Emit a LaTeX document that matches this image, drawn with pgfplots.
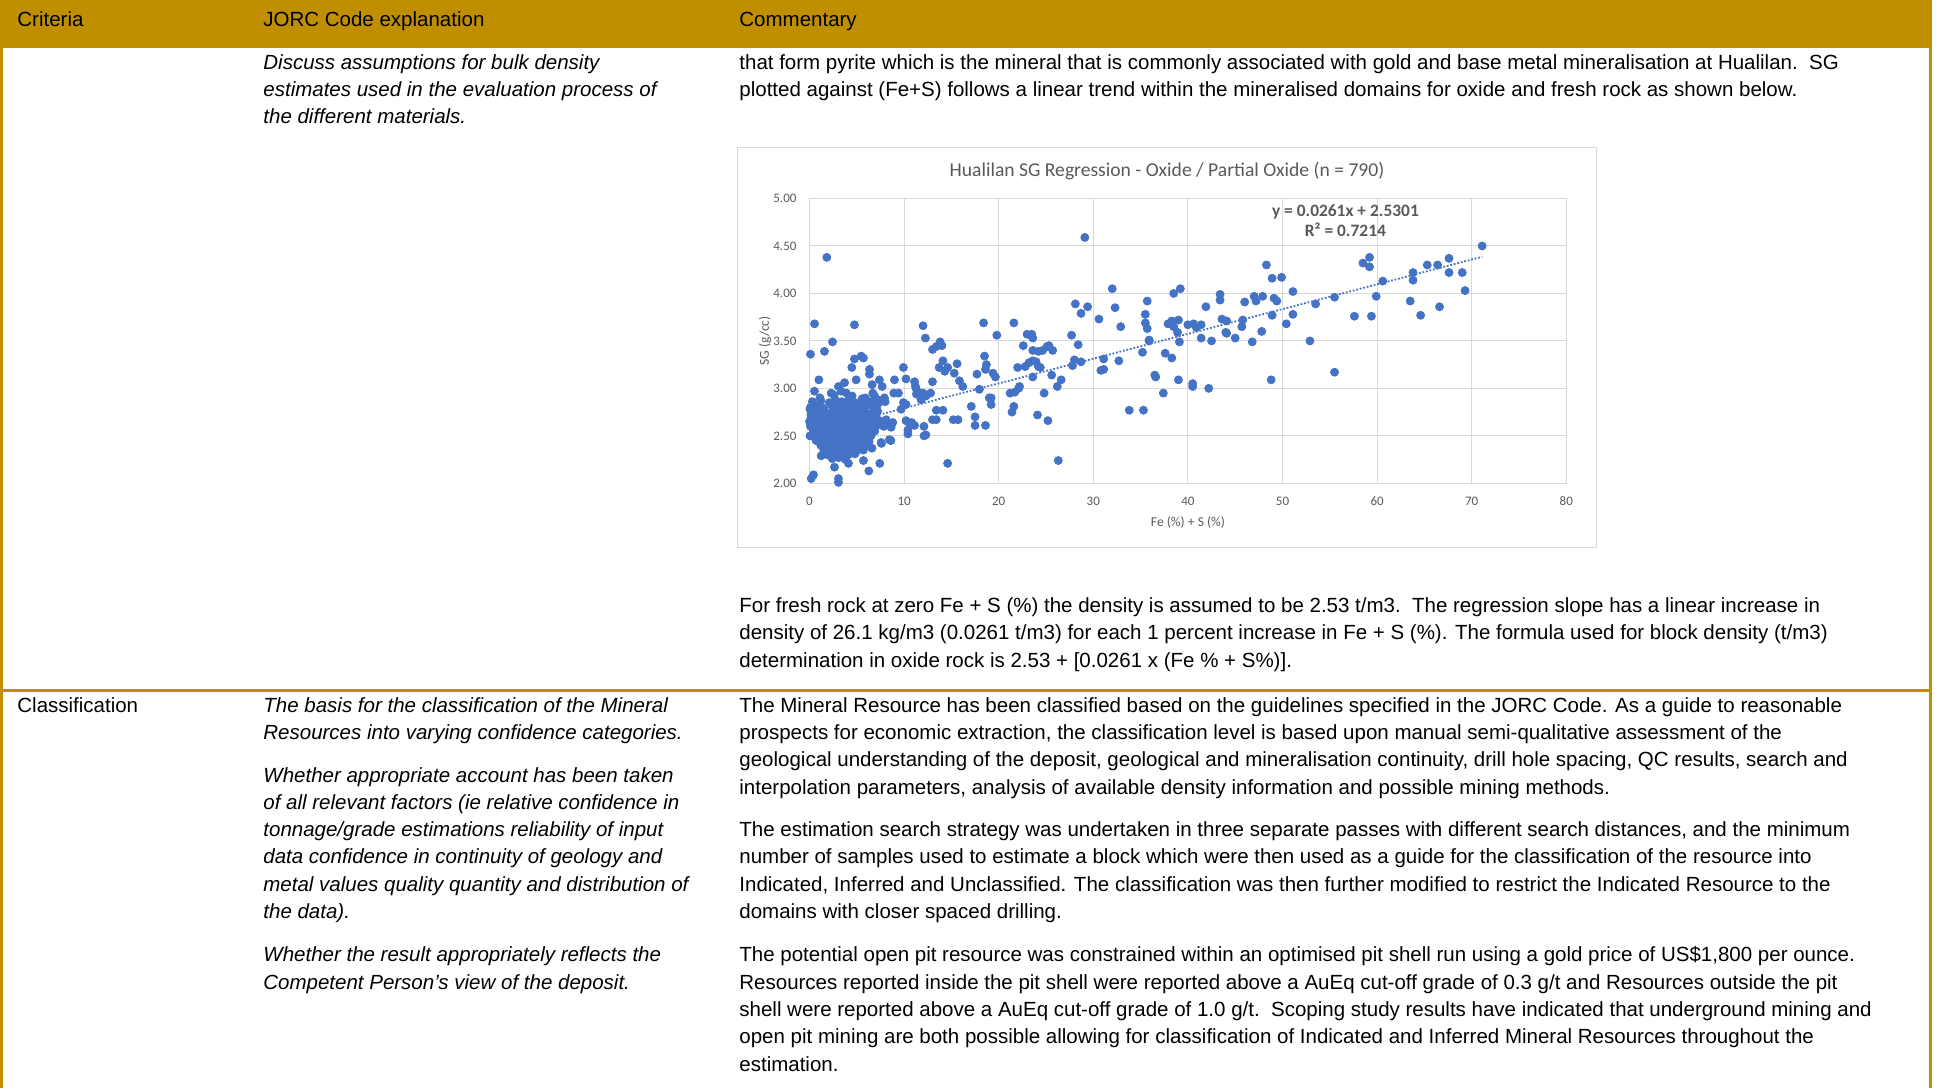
\documentclass[border=0pt]{standalone}
\usepackage{fontspec}
\setmainfont{Liberation Sans}
\newfontfamily\calibri{Carlito}
\usepackage{pgfplots}
\pgfplotsset{compat=1.18}

\definecolor{gold}{HTML}{BF8F00}
\definecolor{xlblue}{HTML}{4472C4}
\definecolor{xlgrid}{HTML}{D9D9D9}
\definecolor{xltext}{HTML}{595959}

\newcommand\body{\fontsize{10.25}{13.6}\selectfont}

\begin{document}
\begin{tikzpicture}[x=0.5pt, y=-0.5pt,
  t/.style={anchor=base west, inner sep=0pt, font=\body},
  ti/.style={anchor=base west, inner sep=0pt, font=\body\itshape}]
\useasboundingbox (0,0) rectangle (1941,1088);

% table frame
\fill[gold] (0,0) rectangle (1932,48);
\fill[gold] (0,0) rectangle (3,1088);
\fill[gold] (1929,0) rectangle (1932,1088);
\fill[gold] (0,689.3) rectangle (1932,692.3);

% header
\node[t] at (17,26) {Criteria};
\node[t] at (263,26) {JORC Code explanation};
\node[t] at (739,26) {Commentary};

% row 1
\node[ti] at (263,69) {Discuss assumptions for bulk density};
\node[ti] at (263,96) {estimates used in the evaluation process of};
\node[ti] at (263,123) {the different materials.};
\node[t] at (739,69) {that form pyrite which is the mineral that is commonly associated with gold and base metal mineralisation at Hualilan.\ \ SG};
\node[t] at (739,96) {plotted against (Fe+S) follows a linear trend within the mineralised domains for oxide and fresh rock as shown below.};
\node[t] at (739,612) {For fresh rock at zero Fe + S (\%) the density is assumed to be 2.53 t/m3.\ \ The regression slope has a linear increase in};
\node[t] at (739,639.5) {density of 26.1 kg/m3 (0.0261 t/m3) for each 1 percent increase in Fe + S (\%). The formula used for block density (t/m3)};
\node[t] at (739,667) {determination in oxide rock is 2.53 + [0.0261 x (Fe \% + S\%)].};

% row 2
\node[t] at (17,712) {Classification};
\node[ti] at (263,712) {The basis for the classification of the Mineral};
\node[ti] at (263,739) {Resources into varying confidence categories.};
\node[ti] at (263,782.5) {Whether appropriate account has been taken};
\node[ti] at (263,809.5) {of all relevant factors (ie relative confidence in};
\node[ti] at (263,836.5) {tonnage/grade estimations reliability of input};
\node[ti] at (263,863.5) {data confidence in continuity of geology and};
\node[ti] at (263,891) {metal values quality quantity and distribution of};
\node[ti] at (263,918) {the data).};
\node[ti] at (263,961.5) {Whether the result appropriately reflects the};
\node[ti] at (263,989) {Competent Person’s view of the deposit.};

\node[t] at (739,712) {The Mineral Resource has been classified based on the guidelines specified in the JORC Code. As a guide to reasonable};
\node[t] at (739,739) {prospects for economic extraction, the classification level is based upon manual semi-qualitative assessment of the};
\node[t] at (739,766.5) {geological understanding of the deposit, geological and mineralisation continuity, drill hole spacing, QC results, search and};
\node[t] at (739,794) {interpolation parameters, analysis of available density information and possible mining methods.};
\node[t] at (739,836) {The estimation search strategy was undertaken in three separate passes with different search distances, and the minimum};
\node[t] at (739,863.5) {number of samples used to estimate a block which were then used as a guide for the classification of the resource into};
\node[t] at (739,891) {Indicated, Inferred and Unclassified. The classification was then further modified to restrict the Indicated Resource to the};
\node[t] at (739,918) {domains with closer spaced drilling.};
\node[t] at (739,961.5) {The potential open pit resource was constrained within an optimised pit shell run using a gold price of US\$1,800 per ounce.};
\node[t] at (739,989) {Resources reported inside the pit shell were reported above a AuEq cut-off grade of 0.3 g/t and Resources outside the pit};
\node[t] at (739,1016.3) {shell were reported above a AuEq cut-off grade of 1.0 g/t.\ \ Scoping study results have indicated that underground mining and};
\node[t] at (739,1043.6) {open pit mining are both possible allowing for classification of Indicated and Inferred Mineral Resources throughout the};
\node[t] at (739,1071) {estimation.};

% chart frame and texts
\draw[xlgrid, line width=0.5pt] (737.5,147.5) rectangle (1596.5,547.5);
\node[anchor=base, inner sep=0pt, font=\calibri\fontsize{9.8}{11}\selectfont, text=xltext] at (1167,176) {Hualilan SG Regression - Oxide / Partial Oxide (n = 790)};
\node[anchor=base, inner sep=0pt, font=\calibri\fontsize{6.8}{8}\selectfont, text=xltext] at (1188,526) {Fe (\%) + S (\%)};
\node[rotate=90, inner sep=0pt, font=\calibri\fontsize{6.8}{8}\selectfont, text=xltext] at (765,341) {SG (g/cc)};

\begin{axis}[
  at={(404.75pt,-241.65pt)}, anchor=south west,
  scale only axis, width=378.4pt, height=142.4pt,
  xmin=0, xmax=80, ymin=2, ymax=5,
  xtick={0,10,...,80}, ytick={2,2.5,...,5},
  grid=major, grid style={xlgrid, line width=0.5pt},
  axis line style={xlgrid, line width=0.5pt},
  major tick length=0pt,
  tick label style={font=\calibri\fontsize{6.5}{8}\selectfont, text=xltext},
  /pgf/number format/assume math mode=true,
  yticklabel style={/pgf/number format/fixed, /pgf/number format/fixed zerofill, /pgf/number format/precision=2, xshift=-3pt},
  xticklabel style={yshift=-3.2pt},
  ]
  % SG against Fe+S, oxide / partial oxide samples
  \addplot[only marks, mark=*, mark size=2pt, mark options={draw=xlblue, fill=xlblue}] coordinates {
    % dense low Fe+S cluster
    (0.3,2.86) (1.2,2.87) (2.1,2.85) (2.7,2.88) (3.4,2.86) (4.1,2.87) (4.8,2.85) (5.6,2.87) (6.3,2.86)
    (0.1,2.80) (0.8,2.81) (1.5,2.79) (2.4,2.81) (3.0,2.80) (3.7,2.82) (4.4,2.79) (5.1,2.81) (5.8,2.80) (6.5,2.82) (7.0,2.79)
    (0.4,2.75) (1.1,2.76) (1.8,2.74) (2.5,2.75) (3.2,2.76) (3.9,2.74) (4.6,2.75) (5.3,2.76) (6.0,2.74) (6.7,2.75) (7.2,2.76)
    (0.2,2.70) (0.9,2.71) (1.6,2.69) (2.2,2.70) (2.9,2.71) (3.6,2.69) (4.3,2.70) (5.0,2.71) (5.7,2.69) (6.4,2.70) (7.0,2.71)
    (0.5,2.65) (1.2,2.66) (1.9,2.64) (2.6,2.65) (3.3,2.66) (4.0,2.64) (4.7,2.65) (5.4,2.66) (6.1,2.64) (6.8,2.65) (7.4,2.66)
    (0.1,2.60) (0.8,2.61) (1.5,2.59) (2.3,2.60) (3.0,2.61) (3.7,2.59) (4.4,2.60) (5.1,2.61) (5.8,2.59) (6.5,2.60) (7.1,2.61)
    (0.4,2.55) (1.1,2.56) (1.8,2.54) (2.6,2.55) (3.3,2.56) (4.0,2.54) (4.7,2.55) (5.4,2.56) (6.2,2.54) (6.9,2.55)
    (0.2,2.50) (0.9,2.51) (1.6,2.49) (2.3,2.50) (3.0,2.51) (3.7,2.49) (4.4,2.50) (5.1,2.51) (5.8,2.49) (6.5,2.50)
    (0.7,2.45) (1.4,2.46) (2.1,2.44) (2.8,2.45) (3.5,2.46) (4.2,2.44) (4.9,2.45) (5.6,2.46) (6.3,2.44)
    (1.2,2.40) (1.9,2.41) (2.6,2.39) (3.3,2.40) (4.0,2.41) (4.7,2.39) (5.4,2.40) (6.1,2.41)
    (1.5,2.35) (2.2,2.36) (2.9,2.34) (3.6,2.35) (4.3,2.36) (5.0,2.34) (5.7,2.35)
    (1.9,2.30) (2.6,2.31) (3.3,2.29) (4.1,2.30) (4.8,2.31)
    (2.4,2.26) (3.1,2.27) (3.8,2.25)
    (0.05,2.78) (0.0,2.65) (0.15,2.72) (0.3,2.51) (0.05,2.50)
    (1.1,2.90) (2.6,2.93) (3.9,2.95) (4.5,2.92) (5.9,2.90) (7.2,2.88) (6.9,2.84)
    (1.23,2.29) (2.64,2.17) (4.12,2.21) (5.7,2.24) (6.27,2.13) (7.43,2.21)
    (0.18,2.05) (0.42,2.09) (3.06,2.05) (3.06,2.01)
    (6.6,2.37) (7.6,2.42) (8.6,2.45) (7.57,2.43) (8.45,2.46)
    (6.8,2.74) (7.1,2.81) (7.5,2.86) (8.0,2.86)
    (8.1,2.67) (8.56,2.62) (8.8,2.64) (7.85,2.60) (8.63,2.59)
    % upper part of low Fe+S range
    (1.83,4.38) (0.53,3.68) (4.75,3.67) (0.1,3.36) (1.58,3.39) (2.43,3.49)
    (0.99,3.09) (0.53,2.97) (4.47,3.22) (4.75,3.31) (5.46,3.34) (5.70,3.32)
    (4.93,3.09) (6.34,3.20) (6.34,3.15) (6.62,3.04) (7.39,3.09) (7.68,3.02)
    (3.70,3.06) (3.06,3.02) (2.29,2.95) (3.35,2.97) (6.69,2.95) (6.87,2.92)
    (5.56,2.89) (7.92,2.90) (8.98,3.09) (8.91,2.95) (9.40,2.95) (9.93,3.22)
    (10.2,3.10) (11.1,3.07) (11.2,3.02) (11.3,2.99) (11.3,2.94)
    (12.0,3.66) (12.25,3.53) (13.0,3.41) (13.4,3.44) (13.8,3.49) (14.0,3.45)
    (14.1,3.29) (13.7,3.22) (14.3,3.18) (14.6,3.22) (15.3,3.16) (15.6,3.26)
    (15.85,3.08) (16.2,3.02) (13.0,3.07) (12.8,2.95) (11.8,2.88) (12.0,2.95) (12.3,2.92)
    (13.4,2.77) (14.1,2.77)
    (18.4,3.69) (18.5,3.34) (18.7,3.25) (18.6,3.20) (17.7,3.15) (17.96,2.99)
    (19.0,2.90) (17.1,2.81) (17.5,2.70) (17.5,2.61) (18.6,2.61)
    (9.93,2.85) (10.2,2.83) (9.68,2.78) (10.2,2.66) (10.6,2.62) (10.8,2.64)
    (10.4,2.52) (12.1,2.60) (12.3,2.51) (12.1,2.50) (13.0,2.67) (13.4,2.67)
    (15.2,2.67) (15.7,2.67) (11.1,2.61) (10.4,2.56) (14.6,2.21)
    % middle range
    (29.1,4.59) (19.8,3.56) (21.6,3.69) (23.0,3.57) (23.4,3.56) (23.6,3.53)
    (23.5,3.57) (22.6,3.45) (23.6,3.40) (24.2,3.39) (24.65,3.40) (25.1,3.44)
    (25.3,3.45) (25.7,3.40) (22.0,3.22) (22.8,3.23) (23.2,3.27) (23.6,3.29)
    (23.95,3.28) (24.2,3.23) (24.4,3.22) (23.6,3.12) (19.4,3.16) (19.65,3.12)
    (19.2,2.90) (19.2,2.83) (21.2,2.95) (21.7,2.96) (22.1,3.00) (22.2,3.02)
    (21.6,2.81) (21.4,2.75) (24.1,2.72) (25.2,2.66) (24.8,2.95) (25.6,3.14)
    (26.6,3.09) (26.2,3.02) (26.3,2.24) (27.7,3.56) (28.4,3.46) (28.0,3.30)
    (27.8,3.24) (28.7,3.28) (28.1,3.89) (28.7,3.79) (29.4,3.86) (30.6,3.73)
    (32.0,4.05) (32.3,3.85) (32.9,3.65) (30.8,3.19) (31.1,3.20) (31.1,3.31)
    (32.7,3.29) (33.8,2.77) (35.3,2.77) (35.7,3.92) (35.5,3.78) (35.5,3.69)
    (35.7,3.63) (35.9,3.50) (35.9,3.51) (35.2,3.38) (36.5,3.14) (36.6,3.12)
    (37.6,3.37) (38.3,3.32) (37.4,2.95) (38.5,4.00) (39.2,4.05) (37.9,3.68)
    (38.3,3.71) (38.5,3.65) (39.0,3.72) (38.9,3.59) (39.1,3.49) (39.0,3.09)
    (40.0,3.67) (40.6,3.68) (40.9,3.64) (41.4,3.67) (41.4,3.53) (42.5,3.50)
    (41.9,3.86) (40.5,3.05) (40.5,3.02) (42.2,3.00) (43.4,3.99) (43.4,3.93)
    (43.6,3.73) (44.1,3.71) (44.0,3.59) (44.1,3.58) (45.0,3.53)
    % high Fe+S range
    (71.1,4.50) (48.3,4.30) (48.9,4.16) (49.9,4.17) (51.1,4.02) (46.0,3.91)
    (47.0,3.97) (47.2,3.92) (47.9,3.97) (49.1,3.95) (49.4,3.92) (45.8,3.72)
    (45.7,3.65) (47.8,3.60) (46.8,3.49) (48.9,3.77) (51.1,3.78) (50.4,3.68)
    (53.5,3.89) (52.9,3.50) (48.8,3.09) (55.5,3.96) (55.5,3.17) (57.6,3.76)
    (59.4,3.76) (58.5,4.32) (59.2,4.38) (59.2,4.28) (59.9,3.97) (60.6,4.13)
    (63.5,3.92) (63.8,4.22) (63.8,4.14) (64.6,3.77) (65.3,4.30) (66.4,4.30)
    (66.6,3.86) (67.6,4.37) (67.6,4.22) (69.0,4.22) (69.3,4.03)
  };
  % linear trendline
  \addplot[xlblue, line width=0.9pt, dash pattern=on 0.9pt off 0.9pt] coordinates {(0,2.5301) (71.1,4.3858)};
  \node[anchor=base, inner sep=0pt, font=\calibri\bfseries\fontsize{8.7}{10}\selectfont, text=xltext] at (axis cs:56.65,4.81) {y = 0.0261x + 2.5301};
  \node[anchor=base, inner sep=0pt, font=\calibri\bfseries\fontsize{8.7}{10}\selectfont, text=xltext] at (axis cs:56.65,4.60) {R² = 0.7214};
\end{axis}
\end{tikzpicture}
\end{document}
